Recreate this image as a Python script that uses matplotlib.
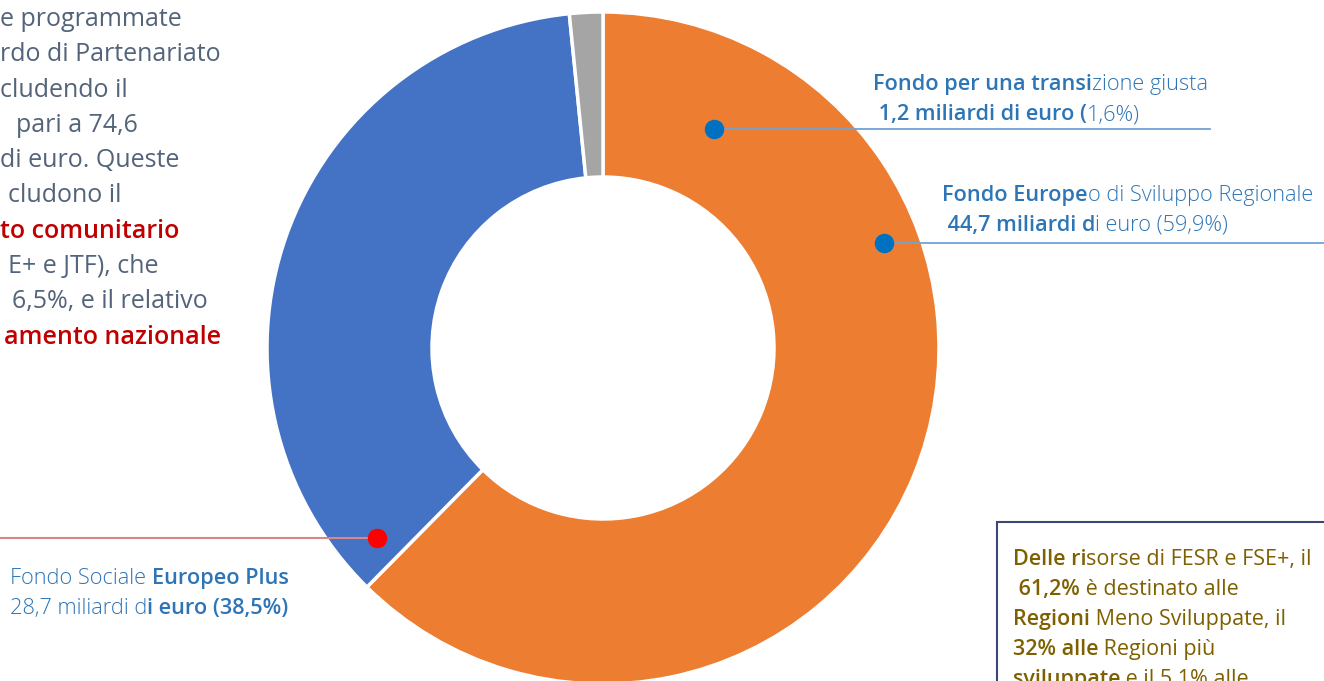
import matplotlib.pyplot as plt
from matplotlib.patches import Rectangle

W, H = 1324, 681

# ring as drawn (FESR, FSE+, JTF); the printed labels read 59,9 / 38,5 / 1,6
fund_codes = ["FESR", "FSE+", "JTF"]
ring_share = [62.4, 36.0, 1.6]
ring_colors = ["#ED7D31", "#4472C4", "#A5A5A5"]

jtf_label = [[("Fondo per una transi", "semibold"), ("zione giusta", "light")],
             [(" 1,2 miliardi di euro (", "semibold"), ("1,6%)", "light")]]
fesr_label = [[("Fondo Europe", "semibold"), ("o di Sviluppo Regionale", "light")],
              [(" 44,7 miliardi d", "semibold"), ("i euro (59,9%)", "light")]]
fse_label = [[("Fondo Sociale ", "light"), ("Europeo Plus", "semibold")],
             [("28,7 miliardi d", "light"), ("i euro (38,5%)", "semibold")]]

box_lines = [[("Delle ri", "semibold"), ("sorse di FESR e FSE+, il", "normal")],
             [(" 61,2%", "semibold"), (" è destinato alle", "normal")],
             [("Regioni", "semibold"), (" Meno Sviluppate, il", "normal")],
             [("32% alle", "semibold"), (" Regioni più", "normal")],
             [("sviluppate", "semibold"), (" e il 5,1% alle", "normal")]]

# left paragraph: only the part right of the slide edge is visible
left_lines = ["e programmate",
              "rdo di Partenariato",
              "cludendo il",
              "pari a 74,6",
              "di euro. Queste",
              "cludono il",
              "to comunitario",
              "E+ e JTF), che",
              "6,5%, e il relativo",
              "amento nazionale"]
left_red = [False, False, False, False, False, False, True, False, False, True]
left_start = [0, 0, 0, 16, 0, 8, 0, 8, 12, 4]

plt.rcParams['font.family'] = ['Open Sans', 'DejaVu Sans']

fig = plt.figure(figsize=(W / 100, H / 100), dpi=100)
ax = fig.add_axes([0, 0, 1, 1])

cx, cy, R = 603, 348, 336
ax.pie(ring_share, colors=ring_colors, startangle=-90, counterclock=True,
       radius=R, center=(cx, cy),
       wedgeprops=dict(width=165, edgecolor='white', linewidth=2.5))
ax.set_xlim(0, W)
ax.set_ylim(H, 0)
ax.axis('off')

renderer = fig.canvas.get_renderer()


def seg_width(txt, size, wt):
    a = ax.text(0, 0, "|" + txt + "|", fontsize=size, fontweight=wt)
    b = ax.text(0, 0, "||", fontsize=size, fontweight=wt)
    w = a.get_window_extent(renderer).width - b.get_window_extent(renderer).width
    a.remove()
    b.remove()
    return w


def rich(x, y, parts, size, color):
    for txt, wt in parts:
        ax.text(x, y, txt, fontsize=size, fontweight=wt, color=color,
                ha='left', va='baseline')
        x += seg_width(txt, size, wt)


lab_col = "#2E75B6"
fs = 15.7

# JTF
ax.plot([714, 1210], [129, 129], color="#6FA3D6", lw=1.3, zorder=3)
ax.plot(714, 129, 'o', color="#0070C0", ms=13, zorder=4)
rich(873, 90, jtf_label[0], fs, lab_col)
rich(873, 120, jtf_label[1], fs, lab_col)

# FESR
ax.plot([884, W], [243, 243], color="#6FA3D6", lw=1.3, zorder=3)
ax.plot(884, 243, 'o', color="#0070C0", ms=13, zorder=4)
rich(942, 201, fesr_label[0], fs, lab_col)
rich(942, 231, fesr_label[1], fs, lab_col)

# FSE+
ax.plot([0, 377], [538, 538], color="#D9868B", lw=1.5, zorder=3)
ax.plot(377, 538, 'o', color="#FF0000", ms=13, zorder=4)
rich(10, 584, fse_label[0], fs, lab_col)
rich(10, 614, fse_label[1], fs, lab_col)

# box on the right
ax.add_patch(Rectangle((997, 522), 400, 300, facecolor='white',
                       edgecolor="#3B4677", lw=1.5, zorder=2))
for i, line in enumerate(box_lines):
    rich(1013, 565 + 30 * i, line, 15.5, "#7F6000")

# left paragraph
for i, (txt, red, x0) in enumerate(zip(left_lines, left_red, left_start)):
    ax.text(x0, 26 + 35.3 * i, txt, fontsize=18, ha='left', va='baseline',
            color="#C00000" if red else "#53647A",
            fontweight='semibold' if red else 'normal')

fig.savefig("out.png", dpi=100)
